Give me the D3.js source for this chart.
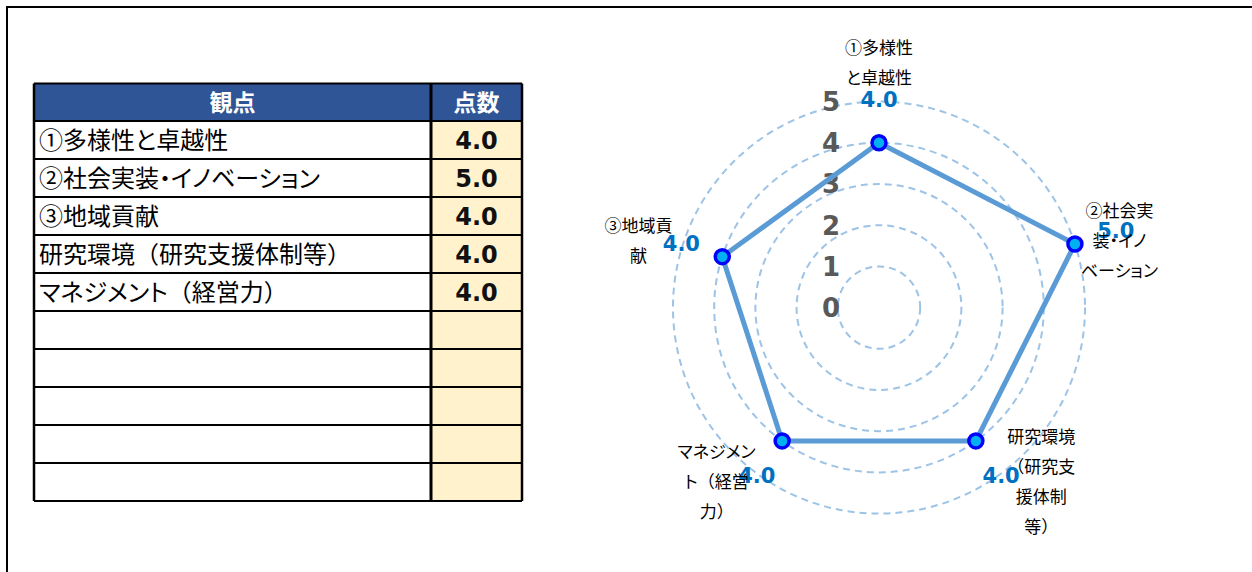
<!DOCTYPE html>
<html>
<head>
<meta charset="utf-8">
<script src="https://cdn.jsdelivr.net/npm/d3@7"></script>
<style>
  html, body { margin: 0; padding: 0; background: #fff; overflow: hidden; }
  svg { display: block; }
</style>
</head>
<body>
<svg id="chart" width="1252" height="572"></svg>
<script>
// ---------- data ----------
const tableHeaders = ["観点", "点数"];
const tableLabels = [
  "①多様性と卓越性",
  "②社会実装・イノベーション",
  "③地域貢献",
  "研究環境（研究支援体制等）",
  "マネジメント（経営力）",
  "", "", "", "", ""
];
const tableScores = [4.0, 5.0, 4.0, 4.0, 4.0, null, null, null, null, null];

const radarCategories = [
  "①多様性と卓越性",
  "②社会実装・イノベーション",
  "研究環境（研究支援体制等）",
  "マネジメント（経営力）",
  "③地域貢献"
];
const radarLabelLines = [
  ["①多様性", "と卓越性"],
  ["②社会実", "装・イノ", "ベーション"],
  ["研究環境", "（研究支", "援体制", "等）"],
  ["マネジメン", "ト（経営", "力）"],
  ["③地域貢", "献"]
];
const radarValues = [4.0, 5.0, 4.0, 4.0, 4.0];
const radialTicks = [0, 1, 2, 3, 4, 5];
const gridRings = [1, 2, 3, 4, 5];

// ---------- setup ----------
const svg = d3.select("#chart");
const CJK = "'Noto Sans CJK JP', 'Noto Sans', sans-serif";
const LAT = "'DejaVu Sans', Verdana, sans-serif";

// split text into runs: full-width parentheses keep full width, the rest proportional
function addRuns(sel, text) {
  const runs = text.match(/[（）]|[^（）]+/g) || [];
  runs.forEach(t => {
    sel.append("tspan")
      .style("font-feature-settings", /[（）]/.test(t) ? "normal" : "'palt'")
      .text(t);
  });
}

// outer frame
svg.append("rect")
  .attr("x", 7).attr("y", 7).attr("width", 1400).attr("height", 800)
  .attr("fill", "none").attr("stroke", "#000").attr("stroke-width", 2);

// ---------- table ----------
const tLeft = 34, tDiv = 431, tRight = 522, tTop = 83.5;
const headerH = 37.5, rowH = 38;
const yRow = d3.scaleLinear().domain([0, 1]).range([tTop + headerH, tTop + headerH + rowH]);
const tBottom = yRow(tableLabels.length);

const table = svg.append("g");
table.append("rect").attr("x", tLeft).attr("y", tTop).attr("width", tRight - tLeft).attr("height", headerH)
  .attr("fill", "#2f5597");
const headerCenters = [(tLeft + tDiv) / 2, (tDiv + tRight) / 2];
table.selectAll("text.hdr").data(tableHeaders).join("text")
  .attr("class", "hdr")
  .attr("x", (d, i) => headerCenters[i])
  .attr("y", tTop + headerH / 2)
  .attr("dy", "0.37em")
  .attr("text-anchor", "middle")
  .attr("fill", "#fff")
  .attr("font-family", CJK).attr("font-weight", "bold").attr("font-size", 23)
  .text(d => d);

table.selectAll("rect.score").data(tableScores).join("rect")
  .attr("class", "score")
  .attr("x", tDiv).attr("y", (d, i) => yRow(i))
  .attr("width", tRight - tDiv).attr("height", rowH)
  .attr("fill", "#fff2cc");

table.selectAll("text.lbl").data(tableLabels).join("text")
  .attr("class", "lbl")
  .attr("x", tLeft + 5)
  .attr("y", (d, i) => yRow(i) + rowH / 2)
  .attr("dy", "0.37em")
  .attr("fill", "#000")
  .attr("font-family", CJK).attr("font-size", 24)
  .each(function(d) { addRuns(d3.select(this), d); });

table.selectAll("text.val").data(tableScores).join("text")
  .attr("class", "val")
  .attr("x", (tDiv + tRight) / 2)
  .attr("y", (d, i) => yRow(i) + rowH / 2)
  .attr("dy", "0.37em")
  .attr("text-anchor", "middle")
  .attr("fill", "#111")
  .attr("font-family", LAT).attr("font-weight", "bold").attr("font-size", 24)
  .text(d => d == null ? "" : d3.format(".1f")(d));

const hLines = d3.range(tableLabels.length + 2).map(i => i === 0 ? tTop : yRow(i - 1));
table.selectAll("line.h").data(hLines).join("line")
  .attr("class", "h")
  .attr("x1", tLeft).attr("x2", tRight)
  .attr("y1", d => d).attr("y2", d => d)
  .attr("stroke", "#000").attr("stroke-width", 2);
table.selectAll("line.v").data([tLeft, tDiv, tRight]).join("line")
  .attr("class", "v")
  .attr("x1", d => d).attr("x2", d => d)
  .attr("y1", tTop).attr("y2", tBottom)
  .attr("stroke", "#000").attr("stroke-width", (d, i) => i === 1 ? 3 : 2.5);

// ---------- radar ----------
const cx = 879, cy = 307.6, R = 206;
const r = d3.scaleLinear().domain([0, 5]).range([0, R]);
const ang = d3.scaleLinear().domain([0, radarCategories.length]).range([0, 2 * Math.PI]);
const px = (i, rad) => cx + rad * Math.sin(ang(i));
const py = (i, rad) => cy - rad * Math.cos(ang(i));

const radar = svg.append("g");

radar.selectAll("circle.ring").data(gridRings).join("circle")
  .attr("class", "ring")
  .attr("cx", cx).attr("cy", cy).attr("r", d => r(d))
  .attr("fill", "none").attr("stroke", "#9dc3e6").attr("stroke-width", 2)
  .attr("stroke-dasharray", "7,5");

radar.selectAll("text.tick").data(radialTicks).join("text")
  .attr("class", "tick")
  .attr("x", cx - 48)
  .attr("y", d => cy - r(d))
  .attr("dy", "0.36em")
  .attr("text-anchor", "middle")
  .attr("fill", "#595959")
  .attr("font-family", LAT).attr("font-weight", "bold").attr("font-size", 26)
  .text(d => d);

const line = d3.lineRadial()
  .angle((d, i) => ang(i))
  .radius(d => r(d))
  .curve(d3.curveLinearClosed);
radar.append("path")
  .attr("transform", `translate(${cx},${cy})`)
  .attr("d", line(radarValues))
  .attr("fill", "none").attr("stroke", "#5b9bd5").attr("stroke-width", 5)
  .attr("stroke-linejoin", "round");

radar.selectAll("circle.pt").data(radarValues).join("circle")
  .attr("class", "pt")
  .attr("cx", (d, i) => px(i, r(d)))
  .attr("cy", (d, i) => py(i, r(d)))
  .attr("r", 7)
  .attr("fill", "#00b0f0").attr("stroke", "#0000ff").attr("stroke-width", 3.5);

radar.selectAll("text.dl").data(radarValues).join("text")
  .attr("class", "dl")
  .attr("x", (d, i) => px(i, r(d) + 43))
  .attr("y", (d, i) => py(i, r(d) + 43))
  .attr("dy", "0.36em")
  .attr("text-anchor", "middle")
  .attr("fill", "#0070c0")
  .attr("font-family", LAT).attr("font-weight", "bold").attr("font-size", 21)
  .text(d => d3.format(".1f")(d));

const labelR = R + 9, lineH = 30, boxW = 72;
radarLabelLines.forEach((lines, i) => {
  const a = ang(i);
  const s = Math.sin(a), c = Math.cos(a);
  let bx = px(i, labelR), by = py(i, labelR);
  const h = lines.length * lineH;
  if (Math.abs(s) > 0.1) {
    bx += Math.sign(s) * boxW / 2;
  } else {
    by += (c > 0 ? -1 : 1) * h / 2;
  }
  lines.forEach((t, k) => {
    const tx = radar.append("text")
      .attr("x", bx)
      .attr("y", by - h / 2 + lineH / 2 + k * lineH)
      .attr("dy", "0.36em")
      .attr("text-anchor", "middle")
      .attr("fill", "#000")
      .attr("font-family", CJK).attr("font-size", 17);
    addRuns(tx, t);
  });
});
</script>
</body>
</html>
